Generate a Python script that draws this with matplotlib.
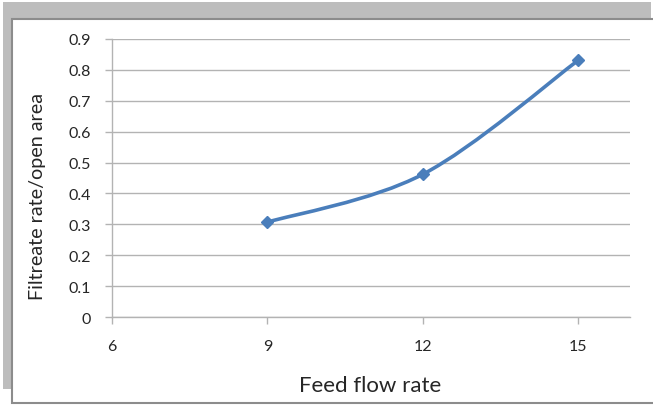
import numpy as np
import matplotlib
matplotlib.use("Agg")
import matplotlib.pyplot as plt
from matplotlib.path import Path
from matplotlib.patches import PathPatch, Rectangle

# Data
feed_flow = [9, 12, 15]
filtrate_per_area = [0.307, 0.462, 0.831]
x_ticks = [6, 9, 12, 15]
y_ticks = [0, 0.1, 0.2, 0.3, 0.4, 0.5, 0.6, 0.7, 0.8, 0.9]

W, H, DPI = 653, 406, 100
fig = plt.figure(figsize=(W / DPI, H / DPI), dpi=DPI)
fig.patch.set_facecolor("white")
plt.rcParams["font.family"] = ["Lato", "DejaVu Sans"]


def fx(px):
    return px / W


def fy(py):
    return 1 - py / H


# Shadowed frame around the chart
shade = "#bdbdbd"
edge = "#8c8c8c"
fig.patches.append(Rectangle((fx(3), fy(20)), fx(648), 17 / H, transform=fig.transFigure,
                             facecolor=shade, edgecolor="none", zorder=0))
fig.patches.append(Rectangle((fx(3), fy(390)), 8 / W, 370 / H, transform=fig.transFigure,
                             facecolor=shade, edgecolor="none", zorder=0))
fig.patches.append(Rectangle((fx(11.5), fy(404)), fx(700), 384.5 / H, transform=fig.transFigure,
                             facecolor="white", edgecolor=edge, linewidth=1.5, zorder=1))

# Plot area
left, right, top, bottom = 112, 630, 40, 318
ax = fig.add_axes([fx(left), fy(bottom), (right - left) / W, (bottom - top) / H], zorder=2)
ax.set_facecolor("none")
ax.set_xlim(6, 16)
ax.set_ylim(0, 0.9)
ax.set_xticks(x_ticks)
ax.set_yticks(y_ticks)
ax.set_xticklabels([str(t) for t in x_ticks])
ax.set_yticklabels(["0" if t == 0 else f"{t:.1f}" for t in y_ticks])

grid_c = "#b3b3b3"
ax.grid(axis="y", color=grid_c, linewidth=1.0)
ax.set_axisbelow(True)
for s in ["top", "right"]:
    ax.spines[s].set_visible(False)
for s in ["left", "bottom"]:
    ax.spines[s].set_color(grid_c)
    ax.spines[s].set_linewidth(1.0)
ax.tick_params(axis="both", colors=grid_c, length=5, width=1.0, direction="out",
               labelcolor="#262626", labelsize=11.5)
ax.tick_params(axis="x", pad=11)
ax.tick_params(axis="y", pad=10)

# Smoothed curve (cubic Bezier segments, Catmull-Rom style control points)
xs = np.array(feed_flow, dtype=float)
ys = np.array(filtrate_per_area, dtype=float)
pts = np.column_stack([xs, ys])
verts = [tuple(pts[0])]
codes = [Path.MOVETO]
n = len(pts)
for i in range(n - 1):
    p0 = pts[i - 1] if i > 0 else pts[i]
    p1 = pts[i]
    p2 = pts[i + 1]
    p3 = pts[i + 2] if i + 2 < n else pts[i + 1]
    c1 = p1 + (p2 - p0) / 6.0
    c2 = p2 - (p3 - p1) / 6.0
    verts += [tuple(c1), tuple(c2), tuple(p2)]
    codes += [Path.CURVE4] * 3
line_c = "#4a7ebb"
ax.add_patch(PathPatch(Path(verts, codes), facecolor="none", edgecolor=line_c,
                       linewidth=2.6, capstyle="round", zorder=3))
ax.plot(xs, ys, linestyle="none", marker="D", markersize=6.5, color=line_c, zorder=4)

fig.text(fx(370), fy(386), "Feed flow rate", ha="center", va="center",
         fontsize=16, color="#262626")
fig.text(fx(38), fy(196), "Filtreate rate/open area", ha="center", va="center",
         rotation=90, fontsize=14.2, color="#262626")

fig.savefig("out.png", dpi=DPI)
